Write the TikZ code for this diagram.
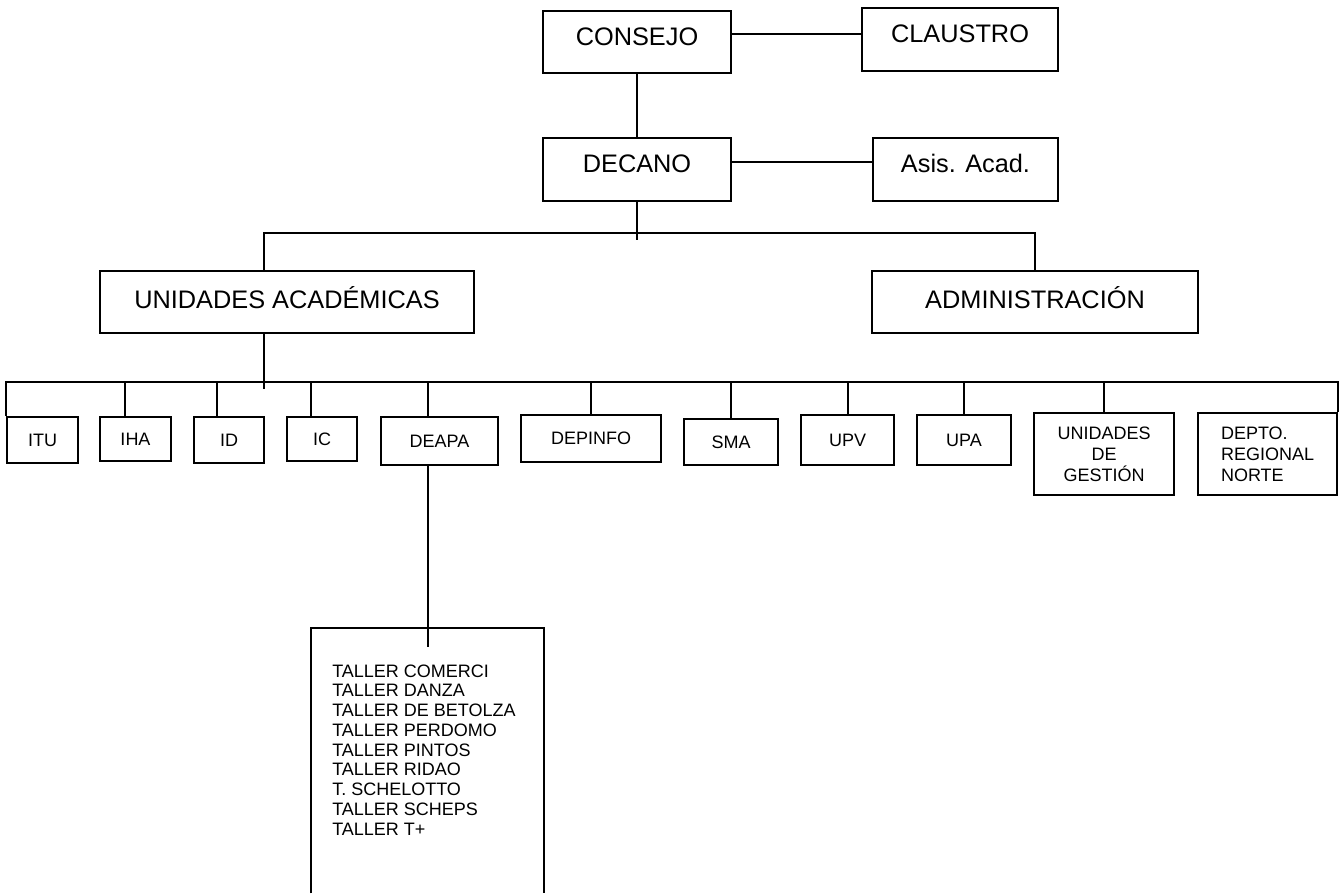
\documentclass[tikz,border=0pt]{standalone}
\usepackage{fontspec}
\setmainfont{Liberation Sans}

\tikzset{
    orgbox/.style={draw, line width=1.5pt, inner sep=0pt, fill=white},
    bigbox/.style={orgbox, font=\fontsize{19}{22}\selectfont, text height=13.9pt, text depth=9pt},
    unitbox/.style={orgbox, font=\fontsize{13.5}{15.75}\selectfont},
    link/.style={line width=1.5pt},
}

\begin{document}
\begin{tikzpicture}[x=0.75pt, y=-0.75pt]
\useasboundingbox[fill=white] (0,0) rectangle (1341,893);

% top of the chart
\node[bigbox, minimum width=141pt, minimum height=46.5pt] (cons) at (637,42) {CONSEJO};
\node[bigbox, minimum width=147pt, minimum height=47.25pt] (claus) at (960,39.5) {CLAUSTRO};
\node[bigbox, minimum width=141pt, minimum height=47.25pt] (dec) at (637,169.5) {DECANO};
\node[bigbox, minimum width=138.75pt, minimum height=47.25pt] (asis) at (965.5,169.5) {Asis. Acad.};
\node[bigbox, text depth=4.5pt, minimum width=280.5pt, minimum height=46.5pt] (ua) at (287,302) {UNIDADES ACADÉMICAS};
\node[bigbox, text depth=4.5pt, minimum width=244.5pt, minimum height=46.5pt] (adm) at (1035,302) {ADMINISTRACIÓN};

\coordinate (bus1) at (637,233);
\coordinate (bus2) at (264,382);

\draw[link] ([yshift=6pt]cons.east) -- ([yshift=6pt]cons.east -| claus.west);
\draw[link] ([yshift=6pt]dec.east) -- ([yshift=6pt]dec.east -| asis.west);
\draw[link] (cons.south) -- (dec.north);
\draw[link] (dec.south) -- (bus1) -- ++(0,7);
\draw[link] ([xshift=-17.25pt]ua.north) |- (bus1) -| (adm.north);
\draw[link] ([xshift=-17.25pt]ua.south) -- ++(0,55);

% units under UNIDADES ACADEMICAS
\foreach \n/\x/\y/\w/\h/\t in {
    itu/42.5/440/53.25/34.5/ITU,
    iha/135.5/439/53.25/33/IHA,
    id/229/440/52.5/34.5/ID,
    ic/322/439/52.5/33/IC,
    deapa/439.5/441/87.75/36/DEAPA,
    depinfo/591/438.5/105/35.25/DEPINFO,
    sma/731/442/70.5/34.5/SMA,
    upv/847.5/440/69.75/37.5/UPV,
    upa/964/440/70.5/37.5/UPA%
} {
    \node[unitbox, text height=9.7pt, text depth=0pt, minimum width=\w pt, minimum height=\h pt] (\n) at (\x,\y) {\t};
}
\node[unitbox, align=center, minimum width=105pt, minimum height=61.5pt] (udg) at (1104,454) {UNIDADES\\DE\\GESTIÓN};
\node[unitbox, align=left, minimum width=104.25pt, minimum height=61.5pt] (depto) at (1267.5,454) {DEPTO.\\REGIONAL\\NORTE};

\draw[link] (itu.north west) |- (bus2) -| (depto.north east);
\foreach \n/\dx in {iha/-8.25pt, id/-9pt, ic/-8.25pt, deapa/-8.6pt, depinfo/0pt, sma/0pt, upv/0pt, upa/0pt, udg/0pt} {
    \draw[link] ([xshift=\dx]\n.north) -- ([xshift=\dx]\n.north |- bus2);
}

% list of talleres, box open at the bottom
\node[inner sep=0pt, minimum width=174.75pt, minimum height=198.75pt] (tal) at (427.5,760.5) {};
\draw[link] (tal.south west) |- (tal.north east) -- (tal.south east);
\coordinate (talstub) at ([yshift=-14.25pt]tal.north);
\draw[link] (tal.north |- deapa.south) -- (tal.north) -- (talstub);

\foreach \i/\val in {
    0/TALLER COMERCI,
    1/TALLER DANZA,
    2/TALLER DE BETOLZA,
    3/TALLER PERDOMO,
    4/TALLER PINTOS,
    5/TALLER RIDAO,
    6/T. SCHELOTTO,
    7/TALLER SCHEPS,
    8/TALLER T+%
} {
    \node[anchor=base west, inner sep=0pt, font=\fontsize{13.5}{15}\selectfont] (t\i) at (332,677+19.75*\i) {\val};
}

\end{tikzpicture}
\end{document}
